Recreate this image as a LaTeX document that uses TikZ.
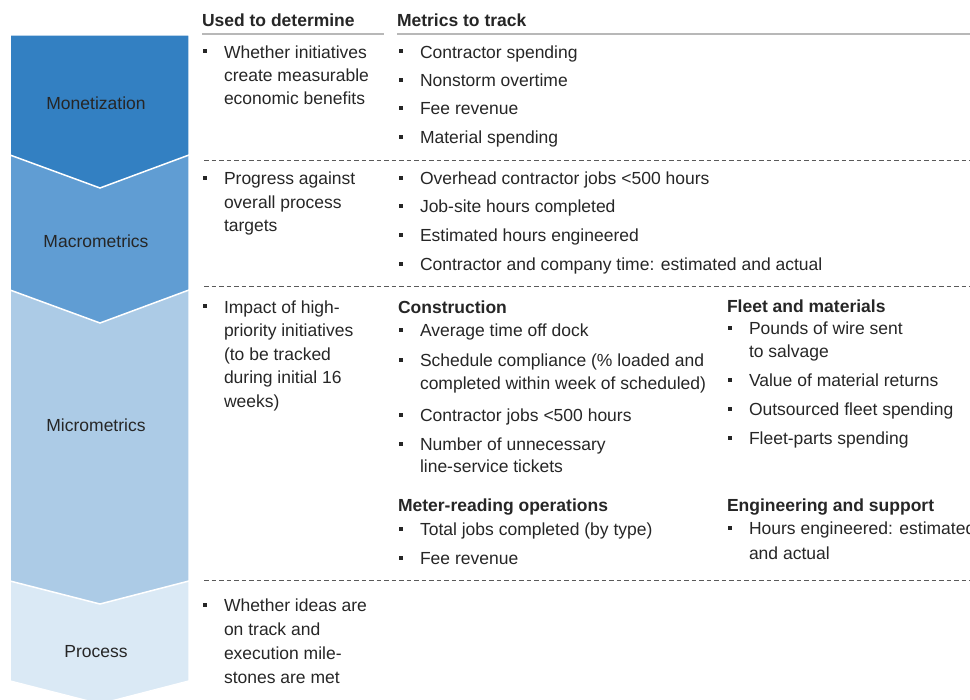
\documentclass[tikz,border=0pt]{standalone}
\usepackage{fontspec}
\setmainfont{Liberation Sans}
\definecolor{ink}{HTML}{262626}
\definecolor{rulegray}{HTML}{B8B8B8}
\definecolor{sepgray}{HTML}{5A5A5A}
\definecolor{monet}{HTML}{3380C2}
\definecolor{macro}{HTML}{609DD3}
\definecolor{micro}{HTML}{ACCBE6}
\definecolor{proc}{HTML}{DAE9F5}
\newcommand\fs{\fontsize{17.5}{23.5}\selectfont}
% one bulleted line: name, text x, baseline y, text
\newcommand\bitem[4]{%
  \node[bul] (#1b) at ({#2-19.5},{#3-7}) {};
  \node[txt] (#1) at (#2,#3) {#4};}
% continuation line of a bullet: name, text x, baseline y, text
\newcommand\contline[4]{\node[txt] (#1) at (#2,#3) {#4};}

\begin{document}
\begin{tikzpicture}[x=1pt,y=-1pt,
  txt/.style={anchor=base west,inner sep=0pt,outer sep=0pt,text=ink,font=\fs},
  head/.style={txt,font=\fs\bfseries},
  lbl/.style={anchor=base,inner sep=0pt,text=ink,font=\fs},
  bul/.style={rectangle,fill=ink,draw=none,inner sep=0pt,minimum size=4pt},
  chev/.style={draw=white,line width=1.5pt,line join=miter},
  rulebar/.style={draw=rulegray,line width=2pt},
  sepline/.style={draw=sepgray,line width=0.9pt,dash pattern=on 4.5pt off 3pt}]
\useasboundingbox (0,0) rectangle (970,700);
\clip (0,0) rectangle (970,700);

% stacked chevrons, lowest first
\path[chev,fill=proc]  (10,570) -- (189,570) -- (189,681) -- (100,704) -- (10,681) -- cycle;
\path[chev,fill=micro] (10,280) -- (189,280) -- (189,581) -- (100,604) -- (10,581) -- cycle;
\path[chev,fill=macro] (10,150) -- (189,150) -- (189,290) -- (100,323) -- (10,290) -- cycle;
\path[chev,fill=monet] (10,35)  -- (189,35)  -- (189,155) -- (100,188) -- (10,155) -- cycle;

\node[lbl] (lmon)  at (96,110)   {Monetization};
\node[lbl] (lmac)  at (96,248)   {Macrometrics};
\node[lbl] (lmic)  at (96,431.7) {Micrometrics};
\node[lbl] (lproc) at (96,657)   {Process};

% column headers
\node[head] (h1) at (202,26.7) {Used to determine};
\node[head] (h2) at (397,26.7) {Metrics to track};
\coordinate (h1e) at (384,34);
\coordinate (h2e) at (970,34);
\draw[rulebar] (h1.west |- h1e) -- (h1e);
\draw[rulebar] (h2.west |- h2e) -- (h2e);

% row separators
\coordinate (s1a) at (204,160.5); \coordinate (s1b) at (970,160.5);
\coordinate (s2a) at (204,286);   \coordinate (s2b) at (970,286);
\coordinate (s3a) at (204,580);   \coordinate (s3b) at (970,580);
\draw[sepline] (s1a) -- (s1b);
\draw[sepline] (s2a) -- (s2b);
\draw[sepline] (s3a) -- (s3b);

% Monetization row
\bitem{a1}{224}{58.3}{Whether initiatives}
\contline{a2}{224}{81.7}{create measurable}
\contline{a3}{224}{105}{economic benefits}
\bitem{b1}{420}{58.3}{Contractor spending}
\bitem{b2}{420}{86.7}{Nonstorm overtime}
\bitem{b3}{420}{115}{Fee revenue}
\bitem{b4}{420}{144}{Material spending}

% Macrometrics row
\bitem{c1}{224}{185}{Progress against}
\contline{c2}{224}{208.5}{overall process}
\contline{c3}{224}{232}{targets}
\bitem{d1}{420}{185}{Overhead contractor jobs <500 hours}
\bitem{d2}{420}{212.7}{Job-site hours completed}
\bitem{d3}{420}{241.7}{Estimated hours engineered}
\bitem{d4}{420}{270.7}{Contractor and company time: estimated and actual}

% Micrometrics row
\bitem{e1}{224}{313.3}{Impact of high-}
\contline{e2}{224}{336.8}{priority initiatives}
\contline{e3}{224}{360.3}{(to be tracked}
\contline{e4}{224}{383.8}{during initial 16}
\contline{e5}{224}{407.3}{weeks)}

\node[head] (g0) at (398,313.3) {Construction};
\bitem{g1}{420}{336.7}{Average time off dock}
\bitem{g2}{420}{366.7}{Schedule compliance (\% loaded and}
\contline{g3}{420}{390}{completed within week of scheduled)}
\bitem{g4}{420}{421.7}{Contractor jobs <500 hours}
\bitem{g5}{420}{450.7}{Number of unnecessary}
\contline{g6}{420}{473}{line-service tickets}

\node[head] (k0) at (398,511.7) {Meter-reading operations};
\bitem{k1}{420}{535.7}{Total jobs completed (by type)}
\bitem{k2}{420}{565}{Fee revenue}

\node[head] (f0) at (727,312.7) {Fleet and materials};
\bitem{f1}{749}{335}{Pounds of wire sent}
\contline{f2}{749}{358}{to salvage}
\bitem{f3}{749}{386.7}{Value of material returns}
\bitem{f4}{749}{416}{Outsourced fleet spending}
\bitem{f5}{749}{445}{Fleet-parts spending}

\node[head] (n0) at (727,511.7) {Engineering and support};
\bitem{n1}{749}{535}{Hours engineered: estimated}
\contline{n2}{749}{560}{and actual}

% Process row
\bitem{p1}{224}{611.7}{Whether ideas are}
\contline{p2}{224}{635.7}{on track and}
\contline{p3}{224}{659.7}{execution mile-}
\contline{p4}{224}{683.7}{stones are met}
\end{tikzpicture}
\end{document}
